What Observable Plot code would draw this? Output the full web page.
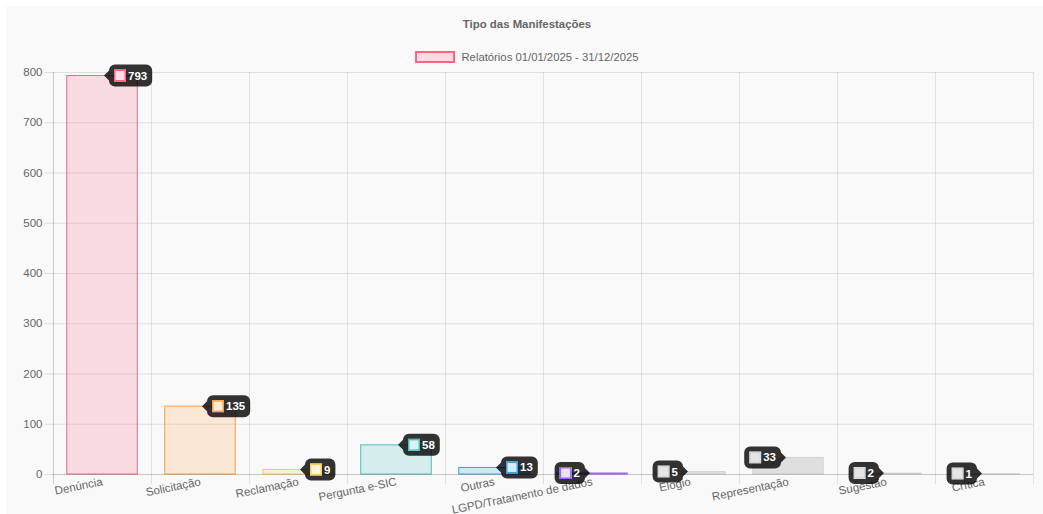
<!DOCTYPE html>
<html>
<head>
<meta charset="utf-8">
<script src="https://cdn.jsdelivr.net/npm/d3@7"></script>
<script src="https://cdn.jsdelivr.net/npm/@observablehq/plot@0.6"></script>
<style>
  html, body { margin: 0; padding: 0; background: #ffffff; }
  body { width: 1043px; height: 514px; overflow: hidden; position: relative; font-family: "Liberation Sans", Arial, Helvetica, sans-serif; }
  #bg { position: absolute; left: 6px; top: 6px; width: 1037px; height: 508px; background: #f9f9f9; }
  #title { position: absolute; left: 0; top: 17px; width: 1054px; text-align: center; font-size: 11.4px; line-height: 14px; font-weight: bold; color: #666; }
  #legend { position: absolute; left: 0; top: 50px; width: 1054px; display: flex; justify-content: center; align-items: center; font-size: 11.3px; line-height: 14px; color: #666; }
  #legend .sw { width: 36px; height: 8px; border: 2px solid rgb(255,99,132); background: rgba(255,99,132,0.2); margin-right: 6px; }
  #chart { position: absolute; left: 0; top: 62px; }
  #chart svg { overflow: visible; }
</style>
</head>
<body>
<div id="bg"></div>
<div id="title"></div>
<div id="legend"><span class="sw"></span><span id="legtext"></span></div>
<div id="chart"></div>
<script>
// ---- data ----
const chartTitle = "Tipo das Manifestações";
const seriesLabel = "Relatórios 01/01/2025 - 31/12/2025";
const categories = ["Denúncia", "Solicitação", "Reclamação", "Pergunta e-SIC", "Outras", "LGPD/Tratamento de dados", "Elogio", "Representação", "Sugestão", "Crítica"];
const values = [793, 135, 9, 58, 13, 2, 5, 33, 2, 1];
const yTicks = [0, 100, 200, 300, 400, 500, 600, 700, 800];

// ---- styles ----
const barFills = ["rgba(255,99,132,0.2)", "rgba(255,159,64,0.2)", "rgba(255,205,86,0.2)", "rgba(75,192,192,0.2)", "rgba(54,162,235,0.2)", "rgba(153,102,255,0.2)", "rgba(0,0,0,0.1)", "rgba(0,0,0,0.1)", "rgba(0,0,0,0.1)", "rgba(0,0,0,0.1)"];
const barStrokes = ["rgb(255,99,132)", "rgb(255,159,64)", "rgb(255,205,86)", "rgb(75,192,192)", "rgb(54,162,235)", "rgb(153,102,255)", "rgba(0,0,0,0.1)", "rgba(0,0,0,0.1)", "rgba(0,0,0,0.1)", "rgba(0,0,0,0.1)"];

document.getElementById("title").textContent = chartTitle;
document.getElementById("legtext").textContent = seriesLabel;

const table = categories.map((c, i) => ({category: c, value: values[i], i}));

const W = 1043, H = 452;
const mL = 52, mR = 10, mT = 10, mB = 40;
const bw = (W - mL - mR) / categories.length;
const gridColor = "rgba(0,0,0,0.1)";
const axisColor = "rgba(0,0,0,0.2)";
const textColor = "#666";
const fontPx = 11.5;

function tooltips(data) {
  return Plot.dot(data, {
    x: "category", y: "value", r: 0,
    render(index, scales, channels, dimensions) {
      const band = typeof scales.x.bandwidth === "function" ? scales.x.bandwidth() : 0;
      const mid = (dimensions.marginLeft + dimensions.width - dimensions.marginRight) / 2;
      const ctx = document.createElement("canvas").getContext("2d");
      ctx.font = `bold ${fontPx}px 'Liberation Sans'`;
      const g = d3.create("svg:g").attr("text-anchor", "start");
      for (const i of index) {
        const d = data[i];
        const cx = scales.x(d.category) + band / 2;
        const cy = scales.y(d.value);
        const label = String(d.value);
        const tw = ctx.measureText(label).width;
        const w = 5 + 12 + 2 + tw + 5, h = 22, r = 6;
        const right = cx <= mid; // box placed to the right of the point
        const tip = right ? cx + 2 : cx - 2;
        const bx = right ? tip + 5 : tip - 5 - w;
        const by = cy - h / 2;
        let p;
        if (right) {
          p = `M${bx + r},${by}H${bx + w - r}A${r},${r} 0 0 1 ${bx + w},${by + r}V${by + h - r}A${r},${r} 0 0 1 ${bx + w - r},${by + h}H${bx + r}A${r},${r} 0 0 1 ${bx},${by + h - r}V${cy + 5}L${tip},${cy}L${bx},${cy - 5}V${by + r}A${r},${r} 0 0 1 ${bx + r},${by}Z`;
        } else {
          p = `M${bx + r},${by}H${bx + w - r}A${r},${r} 0 0 1 ${bx + w},${by + r}V${cy - 5}L${tip},${cy}L${bx + w},${cy + 5}V${by + h - r}A${r},${r} 0 0 1 ${bx + w - r},${by + h}H${bx + r}A${r},${r} 0 0 1 ${bx},${by + h - r}V${by + r}A${r},${r} 0 0 1 ${bx + r},${by}Z`;
        }
        g.append("path").attr("d", p).attr("fill", "rgba(0,0,0,0.8)");
        const sx = bx + 5, sy = cy - 6;
        g.append("rect").attr("x", sx).attr("y", sy).attr("width", 12).attr("height", 12).attr("fill", "#fff");
        g.append("rect").attr("x", sx + 0.75).attr("y", sy + 0.75).attr("width", 10.5).attr("height", 10.5)
          .attr("fill", barFills[d.i]).attr("stroke", barStrokes[d.i]).attr("stroke-width", 1.5);
        g.append("text").attr("x", sx + 14).attr("y", cy).attr("dy", "0.35em").attr("text-anchor", "start")
          .attr("fill", "#fff").attr("font-weight", "bold").attr("font-size", fontPx)
          .attr("font-family", "'Liberation Sans', Arial, sans-serif").text(label);
      }
      return g.node();
    }
  });
}

const plot = Plot.plot({
  width: W, height: H,
  marginLeft: mL, marginRight: mR, marginTop: mT, marginBottom: mB,
  style: {background: "transparent", fontFamily: "'Liberation Sans', Arial, sans-serif", fontSize: fontPx + "px", overflow: "visible"},
  x: {type: "band", domain: categories, padding: 0, label: null},
  y: {domain: [0, 800], label: null},
  color: {type: "identity"},
  marks: [
    Plot.ruleY(yTicks.filter(t => t !== 0), {y: d => d, stroke: gridColor, strokeWidth: 1}),
    Plot.ruleX(categories.slice(1), {x: d => d, dx: -bw / 2, stroke: gridColor, insetBottom: -10}),
    Plot.ruleX(categories.slice(-1), {x: d => d, dx: bw / 2, stroke: gridColor, insetBottom: -10}),
    Plot.barY(table, {x: "category", y: "value", fill: d => barFills[d.i], stroke: d => barStrokes[d.i], strokeWidth: 1, insetLeft: bw * 0.14, insetRight: bw * 0.14}),
    Plot.ruleY([0], {stroke: axisColor, strokeWidth: 1}),
    Plot.ruleX(categories.slice(0, 1), {x: d => d, dx: -bw / 2, stroke: axisColor, insetBottom: -10}),
    Plot.axisY({ticks: yTicks, tickSize: 8, tickPadding: 2, stroke: gridColor, fill: textColor, fontSize: fontPx, label: null, tickFormat: d => String(d)}),
    Plot.axisX({tickSize: 0, tickPadding: 7, tickRotate: -11.5, fill: textColor, fontSize: fontPx, label: null}),
    tooltips(table)
  ]
});
document.getElementById("chart").appendChild(plot);
</script>
</body>
</html>
